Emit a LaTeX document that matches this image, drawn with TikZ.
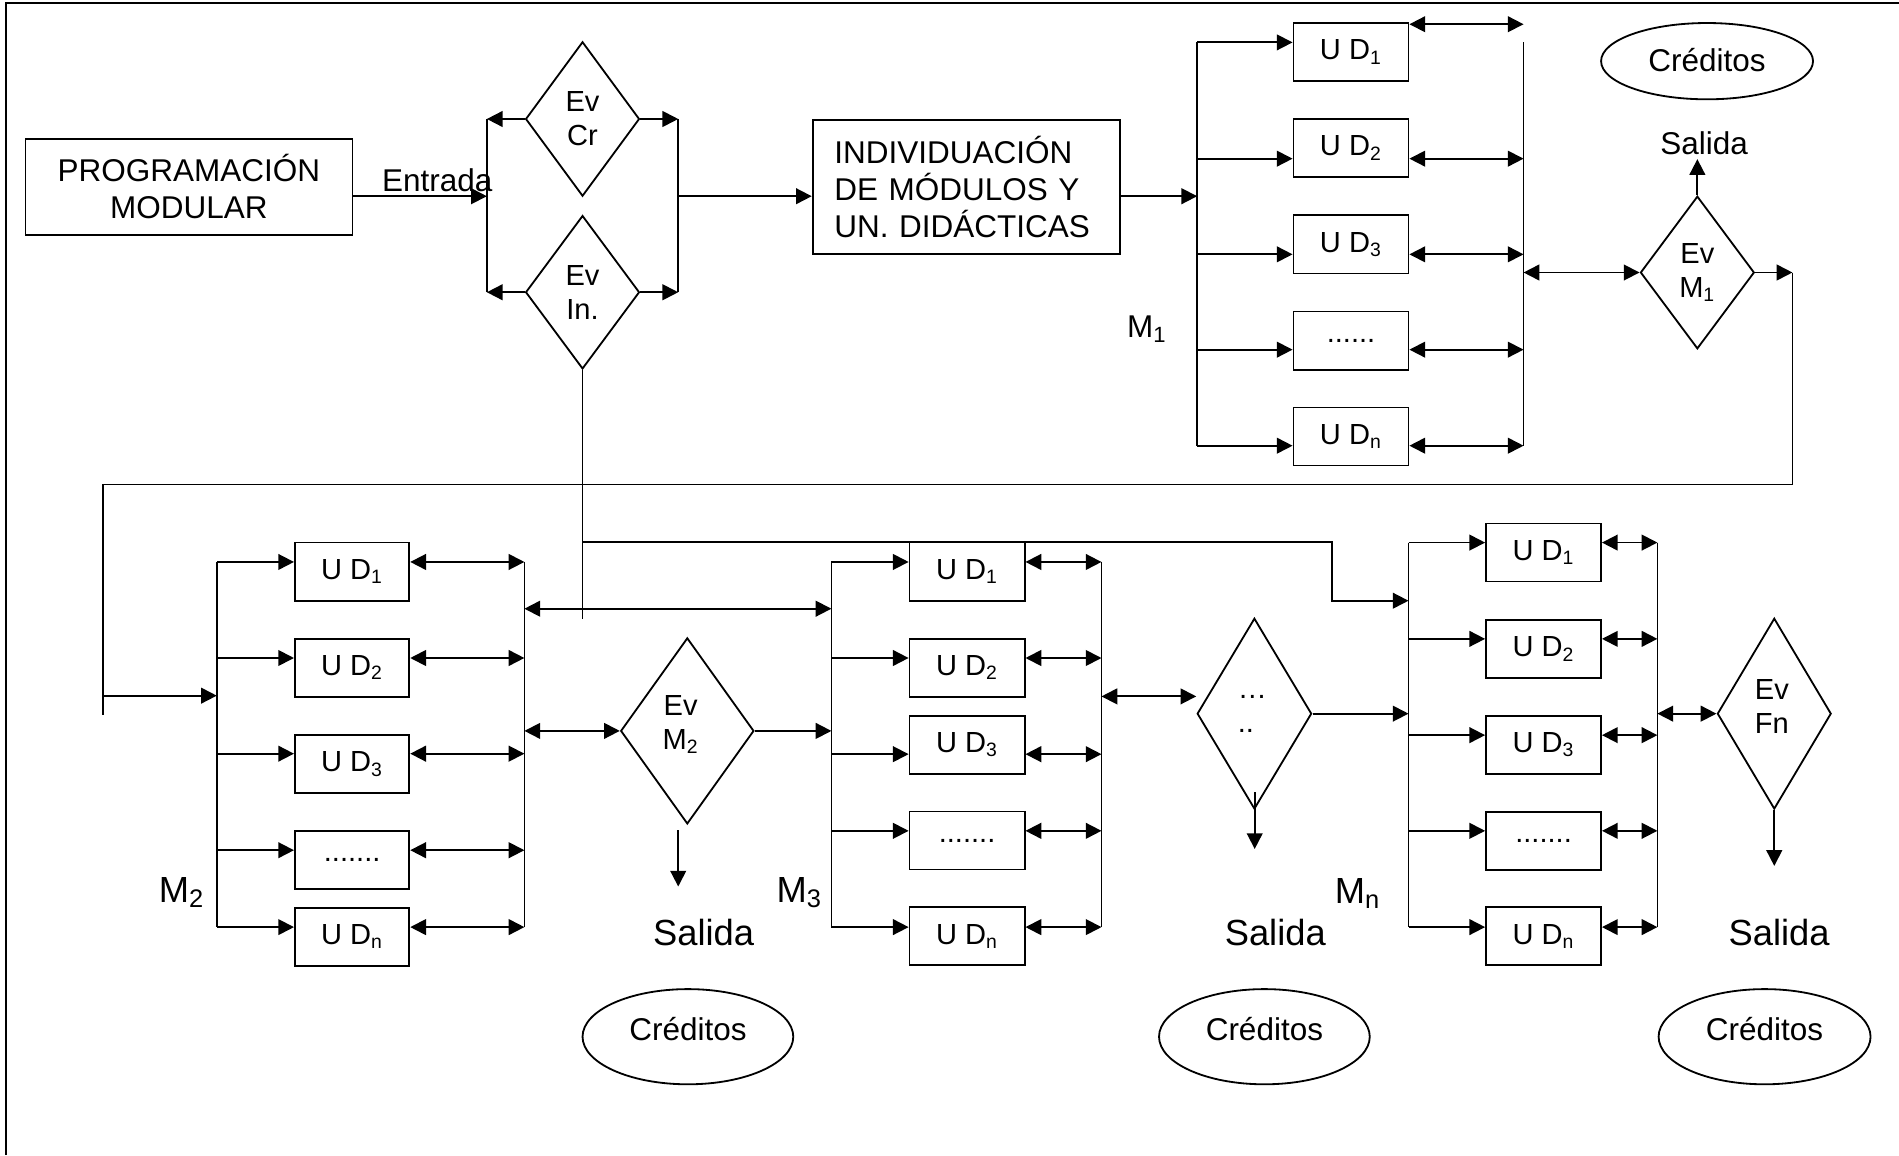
\documentclass[tikz,border=0pt]{standalone}
\usepackage{fontspec}
\setmainfont{Liberation Sans}
\usetikzlibrary{shapes.geometric,arrows.meta}
\begin{document}
\begin{tikzpicture}[x=0.5pt,y=-0.5pt, line width=0.75pt,
  >={Triangle[length=6.5pt,width=6.5pt]},
  box/.style={draw, rectangle, inner sep=0pt, minimum width=47.5pt, minimum height=24pt, font=\fontsize{12}{14}\selectfont},
  dia/.style={draw, diamond, inner sep=0pt, align=center, font=\fontsize{12}{14}\selectfont},
  evt/.style={inner sep=0pt, align=center, font=\fontsize{12}{14}\selectfont},
  lbl/.style={inner sep=0pt, font=\fontsize{13}{15.3}\selectfont},
  big/.style={inner sep=0pt, font=\fontsize{15}{18}\selectfont},
  cred/.style={draw, ellipse, inner sep=0pt}]
\useasboundingbox (0,0) rectangle (1568,953.7);
% frame
\draw (5,953.7) -- (5,2.4) -- (1568,2.4);

% ---------- top section ----------
\node[draw, inner sep=0pt, minimum width=135pt, minimum height=39.7pt, align=center,
      font=\fontsize{13}{15.3}\selectfont] (prog) at (156,154.3) {PROGRAMACIÓN\\MODULAR};
\node[lbl] (entrada) at (361,149) {Entrada};
\coordinate (eL1) at (402,98.25); \coordinate (eL2) at (402,241.3);
\coordinate (eR1) at (560,98.25); \coordinate (eR2) at (560,241.3);
\draw (eL1) -- (eL2);
\draw (eR1) -- (eR2);
\node[dia, minimum width=47pt, minimum height=63.75pt] (evcr) at (481,98.25) {Ev\\Cr};
\node[dia, minimum width=47pt, minimum height=63.3pt] (evin) at (481,241.3) {Ev\\In.};
\draw[->] (prog.east |- 0,162) -- (eL1 |- 0,162);
\draw[->] (evcr.west) -- (eL1);
\draw[->] (evcr.east) -- (eR1);
\draw[->] (evin.west) -- (eL2);
\draw[->] (evin.east) -- (eR2);
\node[draw, inner xsep=9pt, inner ysep=0pt, text width=109pt, minimum height=55.5pt, align=left,
      font=\fontsize{13}{15.25}\selectfont] (indiv) at (798,154.5)
      {INDIVIDUACIÓN\\DE MÓDULOS Y\\UN. DIDÁCTICAS};
\draw[->] (eR1 |- 0,162) -- (indiv.west |- 0,162);

% ---------- M1 ----------
\coordinate (m1Lt) at (988.5,35); \coordinate (m1Lb) at (988.5,368);
\coordinate (m1Rt) at (1258,35); \coordinate (m1Rb) at (1258,368);
\draw (m1Lt) -- (m1Lb);
\draw (m1Rt) -- (m1Rb);
\draw[->] (indiv.east |- 0,162) -- (m1Lt |- 0,162);
\node[box] (m1b1) at (1115.5,43) {U D\textsubscript{1}};
\node[box] (m1b2) at (1115.5,122.3) {U D\textsubscript{2}};
\node[box] (m1b3) at (1115.5,201.8) {U D\textsubscript{3}};
\node[box] (m1b4) at (1115.5,281.2) {......};
\node[box] (m1b5) at (1115.5,360.4) {U D\textsubscript{n}};
\draw[->] (m1Lt) -- (m1b1.west |- m1Lt);
\draw[<->] (m1b1.east |- 0,20) -- (m1Rt |- 0,20);
\foreach \i/\ay in {2/131,3/210,4/288.7,5/368}{
  \draw[->] (m1Lt |- 0,\ay) -- (m1b\i.west |- 0,\ay);
  \draw[<->] (m1b\i.east |- 0,\ay) -- (m1Rt |- 0,\ay);
}
\node[lbl] (m1lab) at (947,272) {M\textsubscript{1}};
\node[dia, minimum width=47pt, minimum height=63pt] (evm1) at (1401.5,225) {Ev\\M\textsubscript{1}};
\draw[<->] (m1Rt |- evm1.west) -- (evm1.west);
\coordinate (s1) at (1401.5,131.4);
\draw[->] (evm1.north) -- (s1);
\node[lbl] (salida1) at (1407,118) {Salida};
\node[cred, minimum width=87.5pt, minimum height=31.5pt] (cred1) at (1409.5,50.5) {};
\node[lbl] (cred1t) at (1409.5,50) {Créditos};

% feedback loop to M2
\coordinate (fb1) at (1480,225);
\coordinate (fb2) at (1480,400);
\coordinate (fb3) at (85,400);
\coordinate (fb4) at (85,590);
\draw[->] (evm1.east) -- (fb1);
\draw (fb1) -- (fb2) -- (fb3) -- (fb4);

% ---------- M2 ----------
\coordinate (m2Lt) at (179,464); \coordinate (m2Lb) at (179,765.5);
\coordinate (m2Rt) at (433,464); \coordinate (m2Rb) at (433,765.5);
\draw (m2Lt) -- (m2Lb);
\draw (m2Rt) -- (m2Rb);
\draw[->] (fb3 |- 0,574.4) -- (m2Lt |- 0,574.4);
\foreach \i/\t/\cy/\ay in {1/{U D\textsubscript{1}}/472/464, 2/{U D\textsubscript{2}}/551.3/543.3,
   3/{U D\textsubscript{3}}/630.8/622.3, 4/{.......}/710/702, 5/{U D\textsubscript{n}}/773.5/765.5}{
  \node[box, minimum width=47.25pt] (m2b\i) at (290.75,\cy) {\t};
  \draw[->] (m2Lt |- 0,\ay) -- (m2b\i.west |- 0,\ay);
  \draw[<->] (m2b\i.east |- 0,\ay) -- (m2Rt |- 0,\ay);
}
\node[big] (m2lab) at (150,737) {M\textsubscript{2}};

% ---------- M3 ----------
\coordinate (m3Lt) at (686.5,464); \coordinate (m3Lb) at (686.5,765.5);
\coordinate (m3Rt) at (909.5,464); \coordinate (m3Rb) at (909.5,765.5);
\draw (m3Lt) -- (m3Lb);
\draw (m3Rt) -- (m3Rb);
\foreach \i/\t/\cy/\ay in {1/{U D\textsubscript{1}}/472/464, 2/{U D\textsubscript{2}}/551.3/543.3,
   3/{U D\textsubscript{3}}/615/622.7, 4/{.......}/694/686, 5/{U D\textsubscript{n}}/773/765.5}{
  \node[box] (m3b\i) at (798.5,\cy) {\t};
  \draw[->] (m3Lt |- 0,\ay) -- (m3b\i.west |- 0,\ay);
  \draw[<->] (m3b\i.east |- 0,\ay) -- (m3Rt |- 0,\ay);
}
\node[big] (m3lab) at (660,737) {M\textsubscript{3}};
\draw[<->] (m2Rt |- 0,502.6) -- (m3Lt |- 0,502.6);

% Ev In line and branch to Mn
\coordinate (v1) at (481,511);
\coordinate (br1) at (481,447.4);
\coordinate (br2) at (1100,447.4);
\coordinate (br3) at (1100,496);
\draw (evin.south) -- (v1);

% Ev M2
\node[dia, minimum width=55pt, minimum height=76.8pt] (evm2) at (567.5,603.5) {};
\node[evt] (evm2t) at (562,598) {Ev\\M\textsubscript{2}};
\draw[<->] (m2Rt |- evm2.west) -- (evm2.west);
\draw[->] (evm2.east) -- (m3Lt |- evm2.east);
\coordinate (s2a) at (560,685.5); \coordinate (s2b) at (560,732);
\draw[->] (s2a) -- (s2b);
\node[big] (salida2) at (581,769.6) {Salida};
\node[cred, minimum width=87pt, minimum height=39.3pt] (cred2) at (568,856) {};
\node[lbl] (cred2t) at (568,850) {Créditos};

% ---------- Mn ----------
\coordinate (mnLt) at (1163,448); \coordinate (mnLb) at (1163,765.5);
\coordinate (mnRt) at (1368.5,448); \coordinate (mnRb) at (1368.5,765.5);
\draw (mnLt) -- (mnLb);
\draw (mnRt) -- (mnRb);
\draw[->] (br1) -- (br2) -- (br3) -- (mnLt |- br3);
\foreach \i/\t/\cy/\ay in {1/{U D\textsubscript{1}}/456.2/448, 2/{U D\textsubscript{2}}/535.8/527.5,
   3/{U D\textsubscript{3}}/615/607, 4/{.......}/694.3/686, 5/{U D\textsubscript{n}}/773/765.5}{
  \node[box] (mnb\i) at (1274.5,\cy) {\t};
  \draw[->] (mnLt |- 0,\ay) -- (mnb\i.west |- 0,\ay);
  \draw[<->] (mnb\i.east |- 0,\ay) -- (mnRt |- 0,\ay);
}
\node[big] (mnlab) at (1121,738) {M\textsubscript{n}};

% dots diamond
\node[dia, minimum width=47.25pt, minimum height=78.75pt] (dd) at (1035.75,589.25) {};
\node[evt, align=left] (ddt) at (1034,589.5) {…\\..};
\draw[<->] (m3Rt |- 0,575) -- (dd.west |- 0,575);
\draw[->] (dd.east) -- (mnLt |- dd.east);
\coordinate (s3a) at (1036,654); \coordinate (s3b) at (1036,701);
\draw[->] (s3a) -- (s3b);
\node[big] (salida3) at (1053,769.6) {Salida};
\node[cred, minimum width=87pt, minimum height=39.3pt] (cred3) at (1044,856) {};
\node[lbl] (cred3t) at (1044,850) {Créditos};

% Ev Fn
\node[dia, minimum width=47pt, minimum height=78.75pt] (evfn) at (1465,589.25) {};
\node[evt] (evfnt) at (1463,583.5) {Ev\\Fn};
\draw[<->] (mnRt |- evfn.west) -- (evfn.west);
\coordinate (s4) at (1465,715);
\draw[->] (evfn.south) -- (s4);
\node[big] (salida4) at (1469,769.6) {Salida};
\node[cred, minimum width=87.5pt, minimum height=39.3pt] (cred4) at (1457,856) {};
\node[lbl] (cred4t) at (1457,850) {Créditos};
\end{tikzpicture}
\end{document}
